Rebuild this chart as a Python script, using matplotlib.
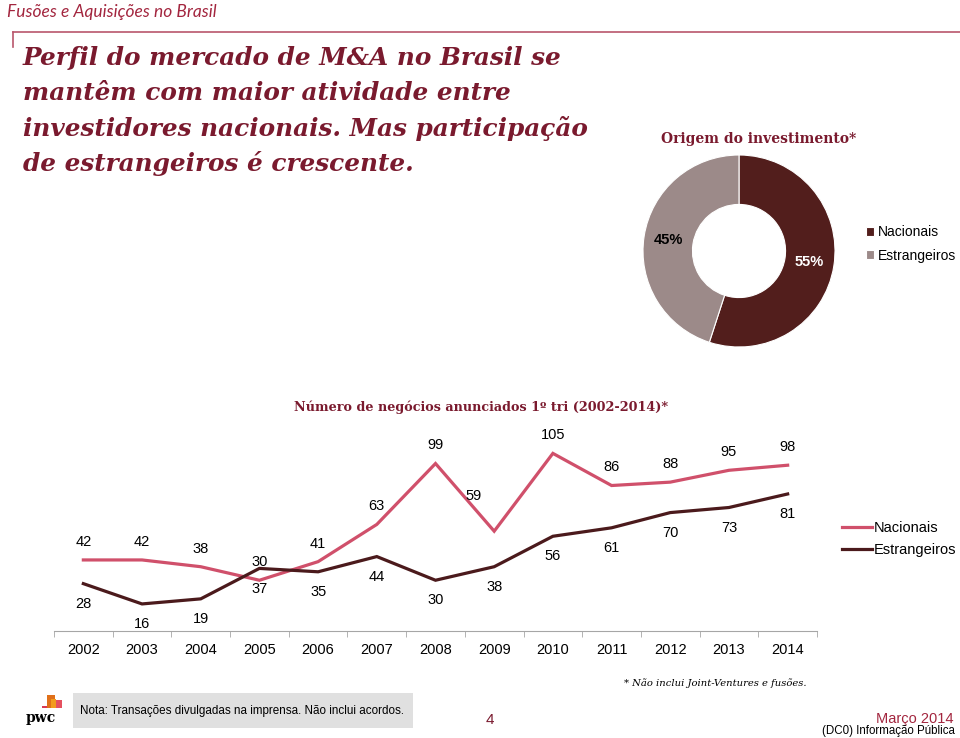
import numpy as np
import matplotlib
matplotlib.use("Agg")
import matplotlib.pyplot as plt
from matplotlib.patches import Rectangle

# ---- data ----
anos = ["2002", "2003", "2004", "2005", "2006", "2007", "2008",
        "2009", "2010", "2011", "2012", "2013", "2014"]
nacionais = [42, 42, 38, 30, 41, 63, 99, 59, 105, 86, 88, 95, 98]
estrangeiros = [28, 16, 19, 37, 35, 44, 30, 38, 56, 61, 70, 73, 81]

origem_labels = ["Nacionais", "Estrangeiros"]
origem_share = [55, 45]

# ---- colours ----
DARK_RED = "#7a1a2e"
HEAD_RED = "#a3263f"
PINK = "#d0506b"
BROWN = "#4b1a1c"
PIE_DARK = "#521e1c"
PIE_GRAY = "#9c8a89"

plt.rcParams["font.family"] = ["Liberation Sans", "DejaVu Sans"]

W, H = 960, 738
fig = plt.figure(figsize=(9.6, 7.38), dpi=100)


def fx(x):
    return x / W


def fy(y):
    return 1 - y / H


# ---- header ----
fig.text(fx(7), fy(12), "Fusões e Aquisições no Brasil", family="Lato",
         style="italic", fontsize=12.5, color=HEAD_RED, va="center", ha="left")
fig.add_artist(plt.Line2D([fx(13), fx(960)], [fy(32), fy(32)], color="#b9566c", lw=1.2))
fig.add_artist(plt.Line2D([fx(13), fx(13)], [fy(32), fy(47)], color="#b9566c", lw=1.2))

titulo = ["Perfil do mercado de M&A no Brasil se",
          "mantêm com maior atividade entre",
          "investidores nacionais. Mas participação",
          "de estrangeiros é crescente."]
for i, linha in enumerate(titulo):
    fig.text(fx(23), fy(58 + 35.3 * i), linha, family="DejaVu Serif", style="italic",
             weight="bold", fontsize=17.8, color=DARK_RED, va="center", ha="left")

# ---- donut ----
cx, cy, r = 739, 251, 96
ax_pie = fig.add_axes([fx(cx - r), fy(cy + r), 2 * r / W, 2 * r / H])
wedges, _, autotexts = ax_pie.pie(
    origem_share, colors=[PIE_DARK, PIE_GRAY], startangle=90, counterclock=False,
    autopct="%d%%", pctdistance=0.74,
    wedgeprops=dict(width=0.515, edgecolor="white", linewidth=0.8))
autotexts[0].set_color("white")
autotexts[1].set_color("black")
for t in autotexts:
    t.set_fontsize(10.5)
    t.set_fontweight("bold")
ax_pie.set_xlim(-1, 1)
ax_pie.set_ylim(-1, 1)
ax_pie.set_aspect("equal")
fig.text(fx(759), fy(139), "Origem do investimento*", family="DejaVu Serif",
         weight="bold", fontsize=10, color=DARK_RED, ha="center", va="center")
fig.legend(wedges, origem_labels, loc="center left", bbox_to_anchor=(fx(866), fy(244)),
           frameon=False, fontsize=10, handlelength=0.55, handleheight=0.55,
           handletextpad=0.3, labelspacing=0.65, borderaxespad=0, borderpad=0)

# ---- line chart ----
ax = fig.add_axes([fx(54), fy(631), (817 - 54) / W, (631 - 428) / H])
x = np.arange(len(anos))
l1, = ax.plot(x, nacionais, color=PINK, lw=2.3, solid_joinstyle="miter")
l2, = ax.plot(x, estrangeiros, color=BROWN, lw=2.3, solid_joinstyle="miter")
ax.set_xlim(-0.5, len(anos) - 0.5)
ax.set_ylim(0, 120)
for s in ["top", "right", "left"]:
    ax.spines[s].set_visible(False)
ax.spines["bottom"].set_color("#a6a6a6")
ax.set_yticks([])
ax.set_xticks(x)
ax.set_xticklabels(anos, fontsize=10.5)
ax.tick_params(axis="x", which="major", length=0, pad=9)
ax.set_xticks(np.arange(-0.5, len(anos), 1), minor=True)
ax.tick_params(axis="x", which="minor", length=4, color="#a6a6a6")

for i, v in enumerate(nacionais):
    off = (0, 13)
    if anos[i] == "2009":
        off = (-15, 25)
    ax.annotate(str(v), (i, v), xytext=off, textcoords="offset points",
                ha="center", va="center", fontsize=10.5)
for i, v in enumerate(estrangeiros):
    ax.annotate(str(v), (i, v), xytext=(0, -14.5), textcoords="offset points",
                ha="center", va="center", fontsize=10.5)

fig.text(fx(481), fy(407), "Número de negócios anunciados 1º tri (2002-2014)*",
         family="DejaVu Serif", weight="bold", fontsize=9.2, color=DARK_RED,
         ha="center", va="center")
fig.legend([l1, l2], ["Nacionais", "Estrangeiros"], loc="center left",
           bbox_to_anchor=(fx(836), fy(539)), frameon=False, fontsize=10.5,
           handlelength=2.1, handletextpad=0.1, labelspacing=0.55, borderaxespad=0)

# ---- footer ----
fig.text(fx(715), fy(683), "* Não inclui Joint-Ventures e fusões.", family="DejaVu Serif",
         style="italic", fontsize=7.2, ha="center", va="center")
fig.add_artist(Rectangle((fx(73), fy(728)), 340 / W, 35 / H, transform=fig.transFigure,
                         facecolor="#e0e0e0", edgecolor="none"))
fig.text(fx(80), fy(711), "Nota: Transações divulgadas na imprensa. Não inclui acordos.",
         fontsize=8.4, ha="left", va="center")
fig.text(fx(490), fy(720), "4", fontsize=11, color=DARK_RED, ha="center", va="center")
fig.text(fx(953), fy(719), "Março 2014", fontsize=10.5, color=HEAD_RED, ha="right", va="center")
fig.text(fx(955), fy(731), "(DC0) Informação Pública", fontsize=8.3, ha="right", va="center")

# pwc logo
for (x0, y0, w, h, c) in [(47, 695, 8, 13, "#e0701a"), (55, 700, 7, 8, "#e5505f"),
                          (51, 699, 5, 9, "#f29b1d"), (42, 706, 5, 2, "#d93954")]:
    fig.add_artist(Rectangle((fx(x0), fy(y0 + h)), w / W, h / H, transform=fig.transFigure,
                             facecolor=c, edgecolor="none"))
fig.text(fx(41), fy(718), "pwc", family="DejaVu Serif", weight="bold", fontsize=10,
         ha="center", va="center")

fig.savefig("out.png", dpi=100)
